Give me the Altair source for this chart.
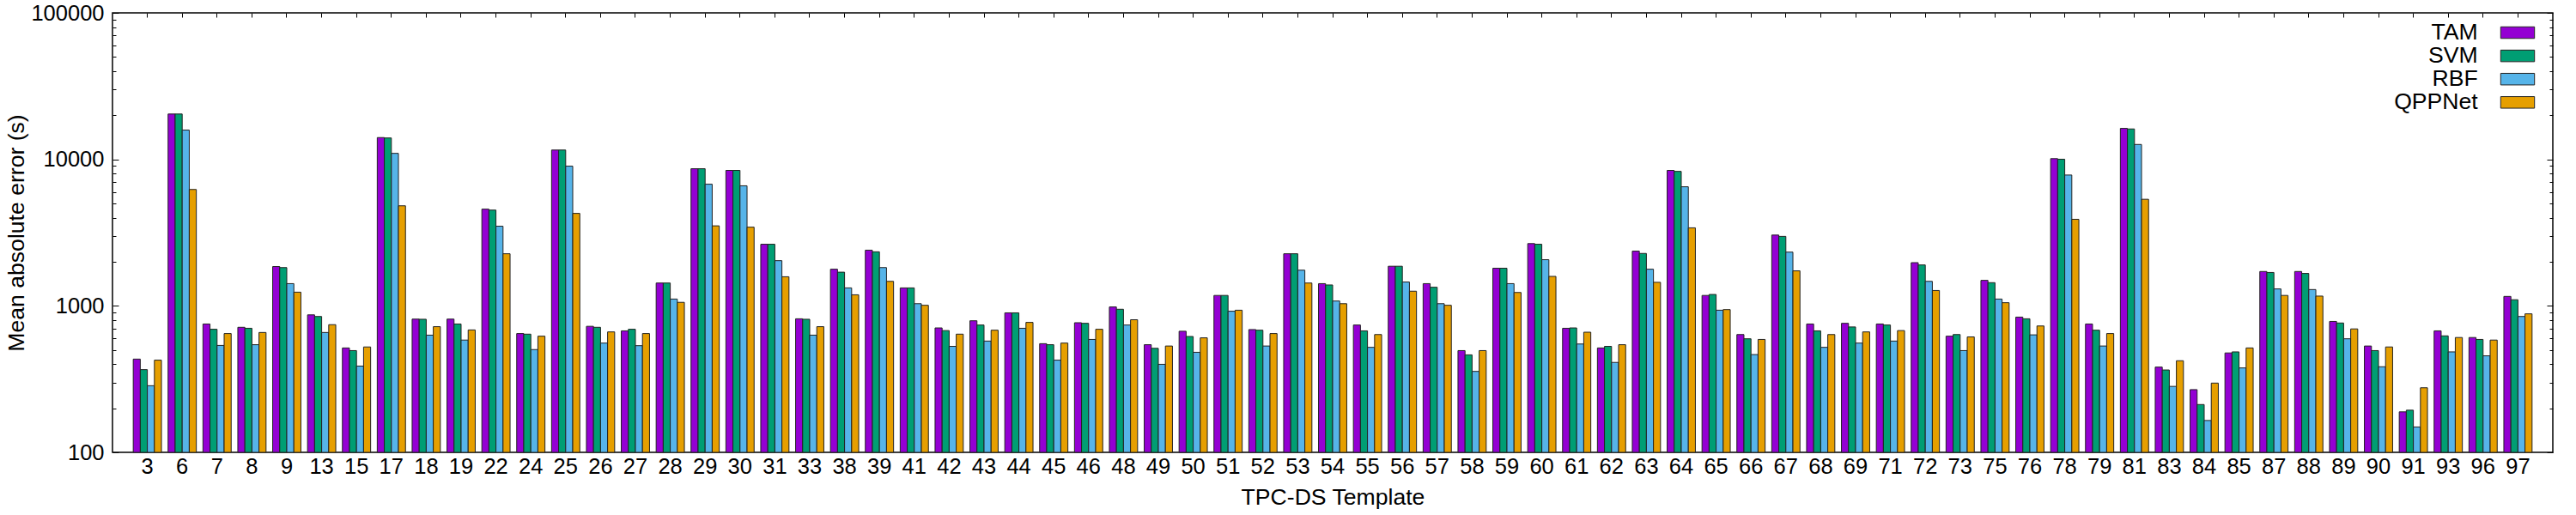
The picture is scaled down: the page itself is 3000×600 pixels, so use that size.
import altair as alt
import pandas as pd

templates = ["3", "6", "7", "8", "9", "13", "15", "17", "18", "19", "22", "24", "25", "26",
             "27", "28", "29", "30", "31", "33", "38", "39", "41", "42", "43", "44", "45",
             "46", "48", "49", "50", "51", "52", "53", "54", "55", "56", "57", "58", "59",
             "60", "61", "62", "63", "64", "65", "66", "67", "68", "69", "71", "72", "73",
             "75", "76", "78", "79", "81", "83", "84", "85", "87", "88", "89", "90", "91",
             "93", "96", "97"]

tam = [433, 20400, 752, 714, 1855, 868, 516, 14090, 812, 812, 4575, 647, 11580, 725,
       675, 1432, 8630, 8410, 2634, 816, 1779, 2400, 1326, 707, 791, 896, 552,
       767, 983, 543, 671, 1178, 689, 2268, 1418, 740, 1864, 1418, 495, 1807,
       2661, 703, 516, 2364, 8410, 1178, 637, 3043, 752, 760, 752, 1972, 621,
       1493, 838, 10120, 752, 16270, 382, 268, 477, 1716, 1716, 783, 532, 189,
       675, 608, 1160]

svm = [367, 20400, 692, 703, 1825, 846, 495, 14000, 810, 752, 4505, 641, 11580, 714,
       692, 1432, 8630, 8410, 2634, 810, 1698, 2339, 1326, 678, 740, 896, 543,
       760, 948, 513, 618, 1178, 682, 2268, 1389, 675, 1864, 1340, 463, 1807,
       2634, 707, 529, 2279, 8280, 1196, 596, 2981, 675, 718, 740, 1903, 637,
       1440, 816, 10020, 682, 16130, 365, 212, 485, 1690, 1664, 764, 495, 194,
       624, 590, 1101]

rbf = [285, 15850, 537, 543, 1418, 658, 388, 10990, 631, 584, 3497, 503, 8990, 557,
       535, 1113, 6770, 6600, 2035, 631, 1326, 1825, 1035, 529, 575, 703, 426,
       590, 740, 399, 482, 919, 532, 1752, 1079, 521, 1455, 1035, 357, 1418,
       2066, 549, 411, 1779, 6500, 934, 465, 2327, 521, 557, 575, 1470, 495,
       1113, 634, 7820, 532, 12640, 282, 165, 377, 1305, 1292, 596, 384, 149,
       485, 456, 846]

qppnet = [426, 6230, 647, 658, 1240, 744, 524, 4820, 721, 685, 2268, 621, 4277, 664,
          647, 1057, 3517, 3445, 1580, 721, 1190, 1470, 1009, 641, 682, 771, 557,
          692, 804, 532, 605, 934, 647, 1432, 1035, 637, 1259, 1009, 495, 1234,
          1589, 661, 543, 1448, 3409, 943, 590, 1734, 637, 664, 678, 1273, 614,
          1051, 729, 3898, 647, 5340, 422, 297, 516, 1178, 1166, 696, 524, 276,
          608, 584, 882]

models = ["TAM", "SVM", "RBF", "QPPNet"]
colors = ["#9400D3", "#009E73", "#56B4E9", "#E69F00"]

major_ticks = [100, 1000, 10000, 100000]
minor_ticks = [200, 300, 400, 500, 600, 700, 800, 900,
               2000, 3000, 4000, 5000, 6000, 7000, 8000, 9000,
               20000, 30000, 40000, 50000, 60000, 70000, 80000, 90000]

rows = []
for i, t in enumerate(templates):
    for m, vals in zip(models, [tam, svm, rbf, qppnet]):
        rows.append({"template": t, "model": m, "mae": vals[i]})
df = pd.DataFrame(rows)

FONT = "Liberation Sans"

x_scale = alt.Scale(domain=templates, paddingInner=0.19, paddingOuter=0.595)
xo_scale = alt.Scale(domain=models, paddingInner=0, paddingOuter=0)
y_scale = alt.Scale(type="log", domain=[100, 100000], nice=False)


def enc(x_axis, y_axis):
    return dict(
        x=alt.X("template:N", sort=templates, scale=x_scale, axis=x_axis),
        xOffset=alt.XOffset("model:N", sort=models, scale=xo_scale),
        y=alt.Y("mae:Q", scale=y_scale, axis=y_axis, stack=None),
        y2=alt.datum(100),
    )


bars = alt.Chart(df).mark_bar(stroke="#222222", strokeWidth=1, opacity=1).encode(
    **enc(
        alt.Axis(orient="bottom", title="TPC-DS Template", labelAngle=0, ticks=False,
                 domain=False, labelPadding=4, titlePadding=10),
        alt.Axis(orient="left", title="Mean absolute error (s)", values=major_ticks,
                 format="d", tickSize=7, offset=-7, domain=False, labelPadding=10,
                 titlePadding=2),
    ),
    color=alt.Color(
        "model:N", sort=models, scale=alt.Scale(domain=models, range=colors),
        legend=alt.Legend(
            orient="none", legendX=2778, legendY=9.7, title=None, padding=0,
            symbolType="M-1.97,-0.675L1.97,-0.675L1.97,0.675L-1.97,0.675Z",
            symbolSize=400, symbolStrokeColor="#222222", symbolStrokeWidth=1,
            symbolOffset=9.7, symbolOpacity=1, labelAlign="right",
            labelOffset=alt.ExprRef("-59.6"), labelFontSize=26.6, labelFont=FONT,
            labelColor="black", rowPadding=0.1,
        ),
    ),
)

left_minor = alt.Chart(df).mark_bar(opacity=0).encode(
    **enc(
        alt.Axis(orient="top", title=None, labels=False, tickSize=5, offset=-5,
                 domain=False),
        alt.Axis(orient="left", title=None, values=minor_ticks, labels=False,
                 tickSize=4, offset=-4, domain=False),
    )
)

right_major = alt.Chart(df).mark_bar(opacity=0).encode(
    **enc(
        None,
        alt.Axis(orient="right", title=None, values=major_ticks, labels=False,
                 tickSize=7, offset=-7, domain=False),
    )
)

right_minor = alt.Chart(df).mark_bar(opacity=0).encode(
    **enc(
        None,
        alt.Axis(orient="right", title=None, values=minor_ticks, labels=False,
                 tickSize=4, offset=-4, domain=False),
    )
)

chart = (
    alt.layer(bars, left_minor, right_major, right_minor)
    .resolve_axis(x="independent", y="independent")
    .properties(
        width=2842, height=512,
        autosize=alt.AutoSizeParams(type="none"),
        padding={"left": 131, "top": 15, "right": 27, "bottom": 73},
        background="white",
    )
    .configure_view(stroke="black", strokeWidth=1.5)
    .configure_axis(
        grid=False, labelFont=FONT, titleFont=FONT, labelFontSize=25.5,
        titleFontSize=26.6, labelColor="black", titleColor="black",
        titleFontWeight="normal", tickColor="black", tickWidth=1,
    )
)

chart.save("out.html", embed_options={"renderer": "svg", "actions": False})
